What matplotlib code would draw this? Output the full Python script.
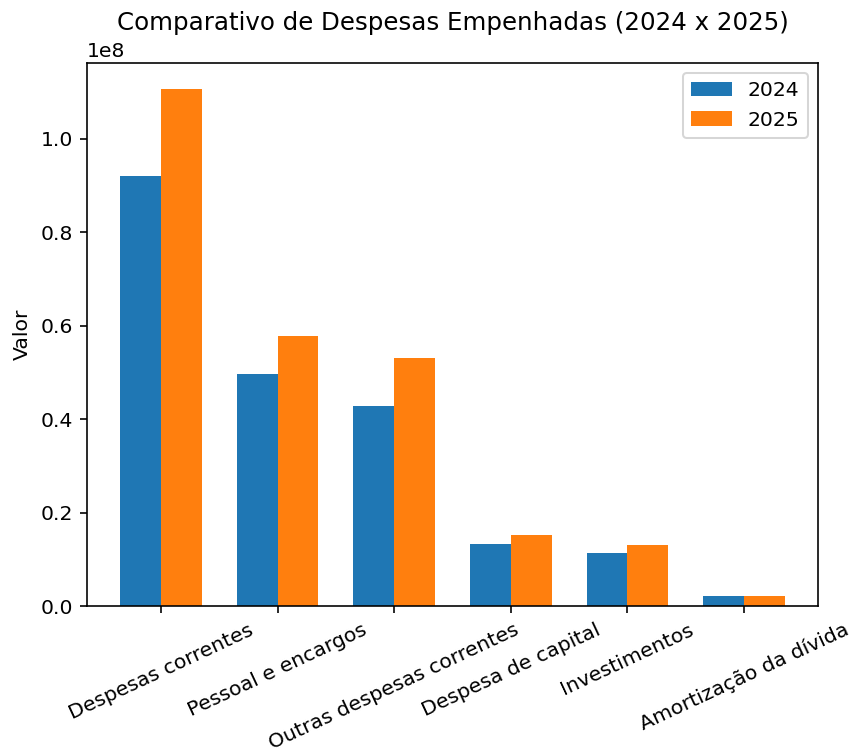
import numpy as np
import matplotlib
matplotlib.use('Agg')
import matplotlib.pyplot as plt

categorias = ['Despesas correntes', 'Pessoal e encargos', 'Outras despesas correntes',
              'Despesa de capital', 'Investimentos', 'Amortização da dívida']
valores_2024 = [0.921e8, 0.4965e8, 0.428e8, 0.132e8, 0.113e8, 0.021e8]
valores_2025 = [1.107e8, 0.578e8, 0.530e8, 0.153e8, 0.131e8, 0.021e8]

dpi = 147
fig = plt.figure(figsize=(851 / dpi, 753 / dpi), dpi=dpi)
ax = fig.add_axes([87 / 851, 1 - 606 / 753, (818 - 87) / 851, (606 - 63) / 753])

x = np.arange(len(categorias))
largura = 0.35
ax.bar(x - largura / 2, valores_2024, largura, label='2024')
ax.bar(x + largura / 2, valores_2025, largura, label='2025')

ax.set_xticks(x)
ax.set_xticklabels(categorias, rotation=25)
ax.set_ylabel('Valor')
ax.set_title('Comparativo de Despesas Empenhadas (2024 x 2025)')
ax.legend()

fig.savefig('out.png', dpi=dpi)
